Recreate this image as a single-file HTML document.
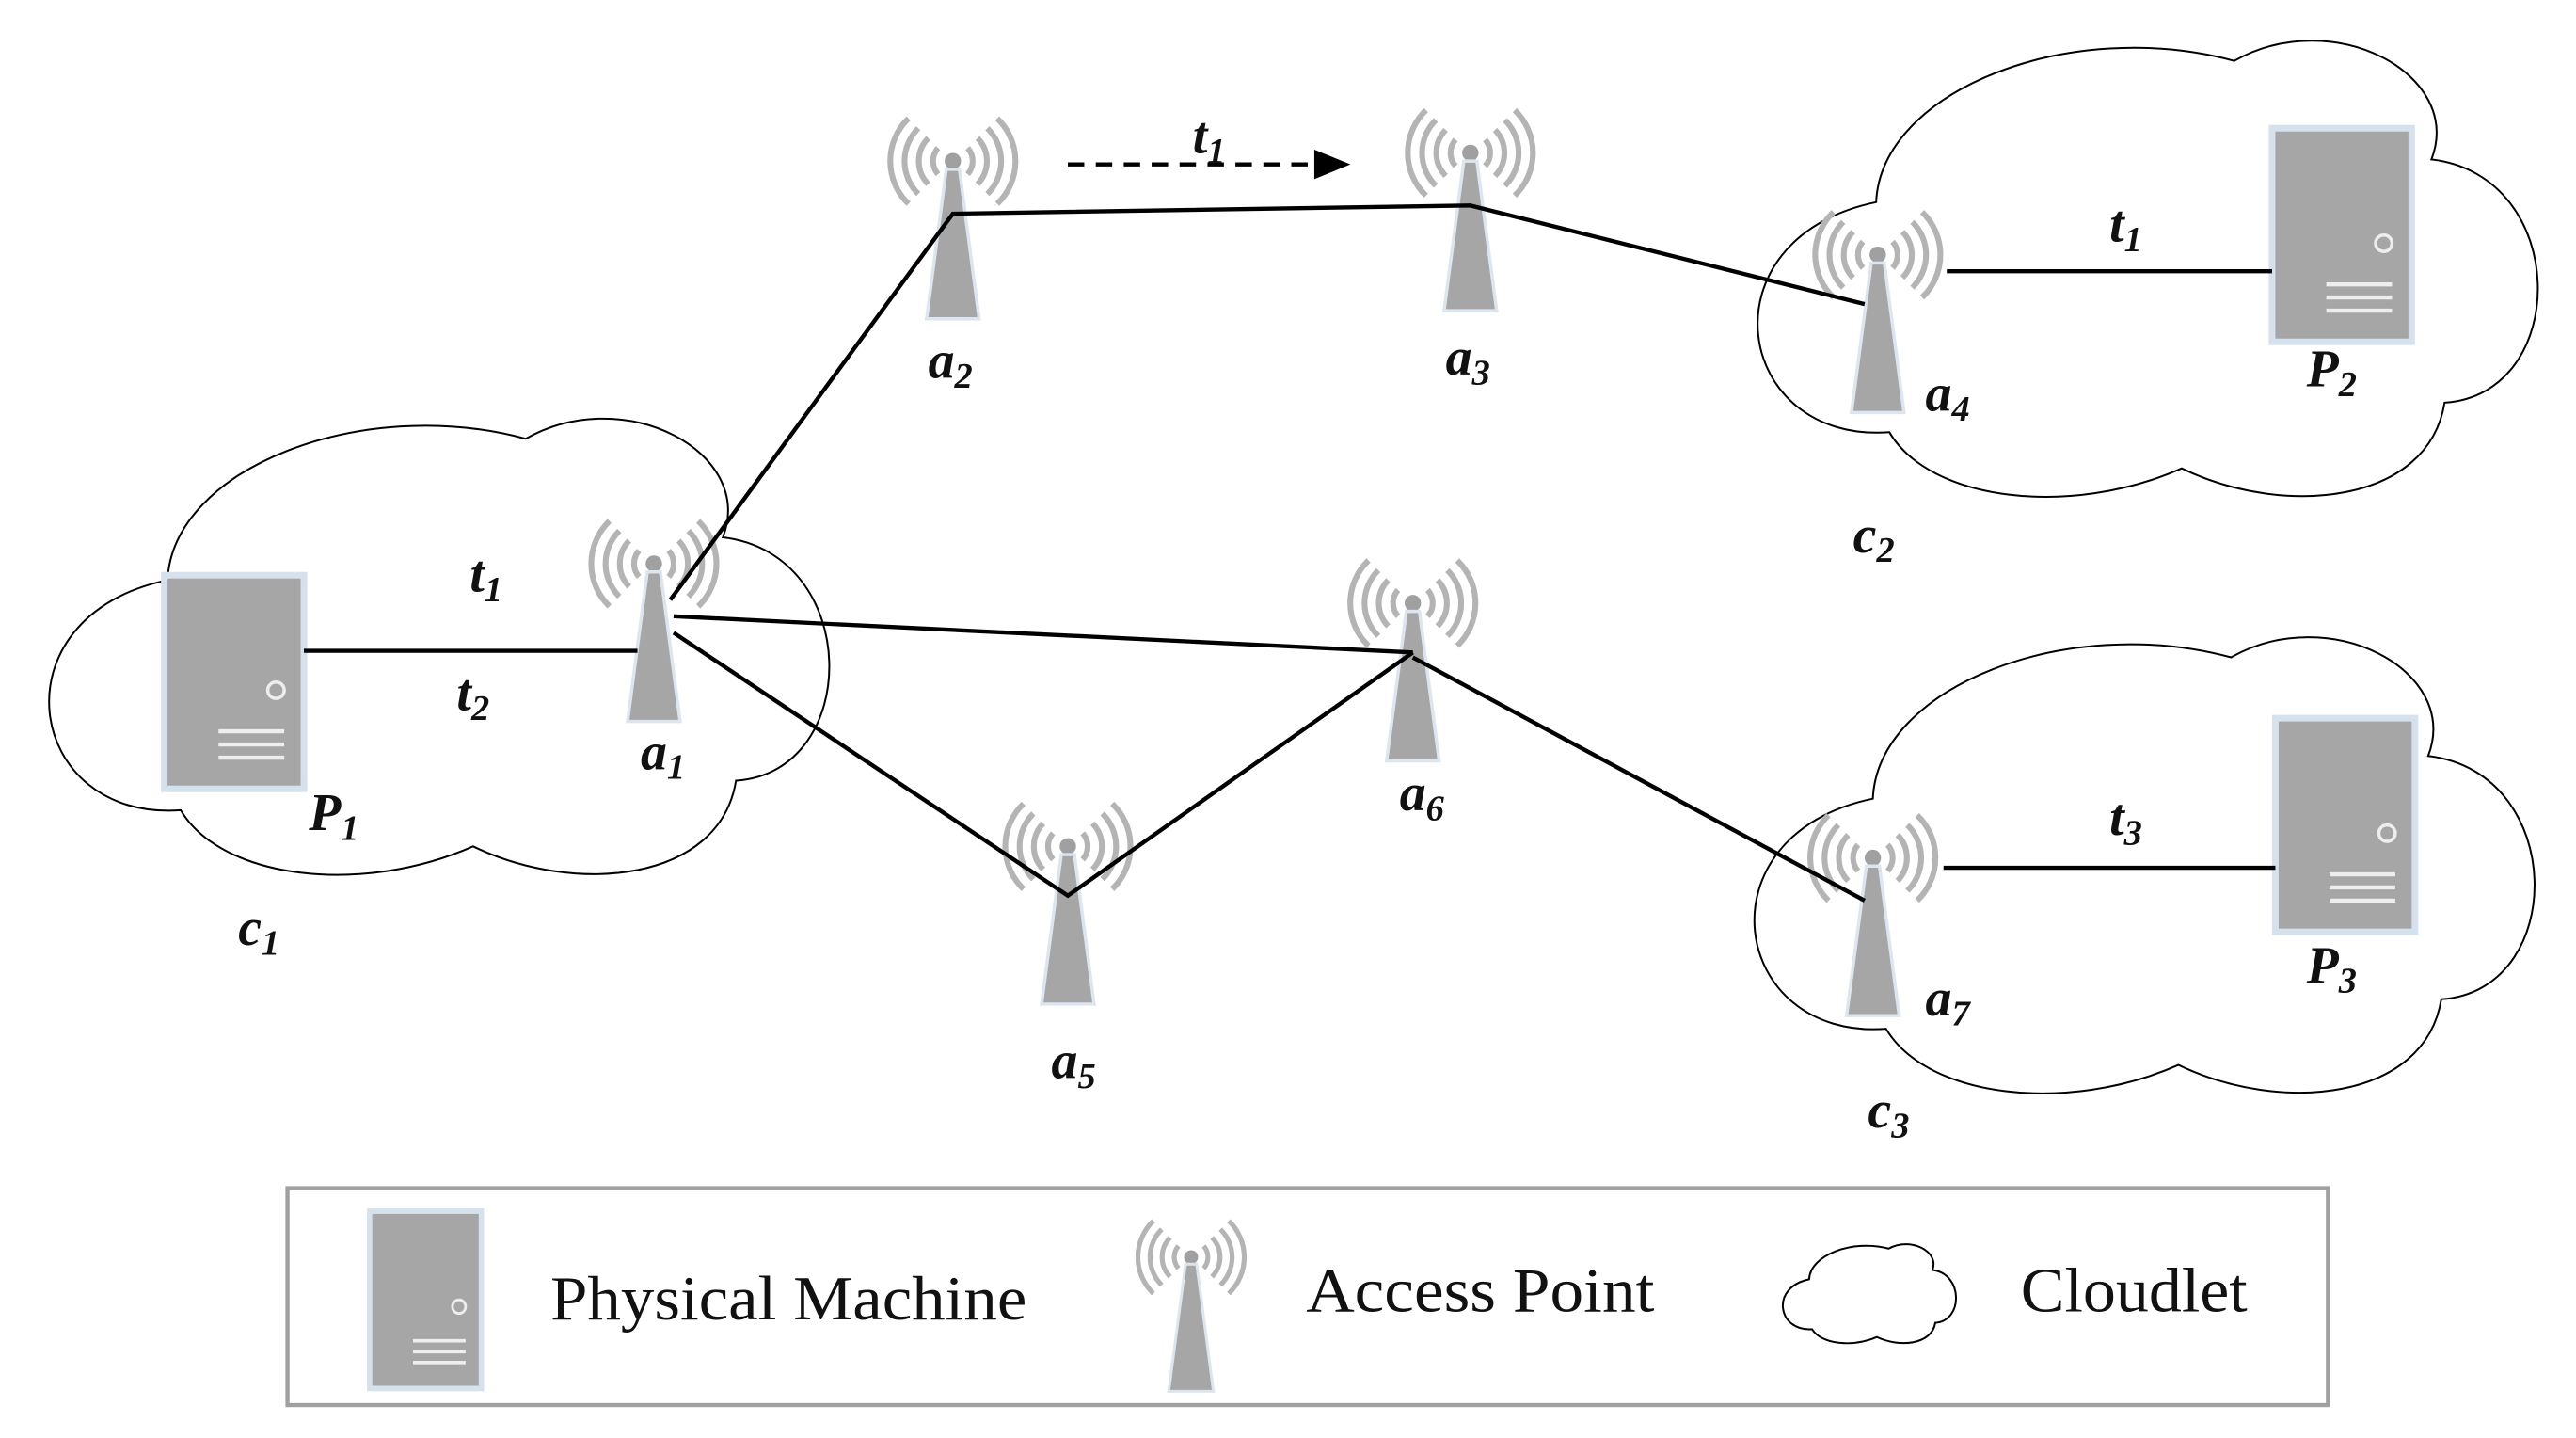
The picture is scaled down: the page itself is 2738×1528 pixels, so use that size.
<!DOCTYPE html>
<html><head><meta charset="utf-8"><style>
html,body{margin:0;padding:0;background:#fff;}
svg{display:block;}
text{font-family:"Liberation Serif",serif;font-style:italic;font-weight:bold;fill:#111;}
.lg{font-style:normal;font-weight:normal;font-size:38px;}
</style></head><body>
<svg width="2738" height="1528" viewBox="0 0 1568 875" xmlns="http://www.w3.org/2000/svg">
<defs>
<path id="cloud" d="M90,248 C-5,255 -25,130 82,108 C85,40 200,-5 300,22 C360,-12 440,30 420,82 C505,92 505,225 428,230 C418,292 330,300 268,270 C200,300 115,290 90,248 Z" fill="#fff" stroke="#000" stroke-width="2" vector-effect="non-scaling-stroke"/>
<g id="ant">
 <g fill="none" stroke="#b4b4b4" stroke-width="3.5">
  <path d="M-9,-8 A12,12 0 0 0 -9,8 M9,-8 A12,12 0 0 1 9,8"/>
  <path d="M-15,-14 A20,20 0 0 0 -15,14 M15,-14 A20,20 0 0 1 15,14"/>
  <path d="M-21,-20 A28,28 0 0 0 -21,20 M21,-20 A28,28 0 0 1 21,20"/>
  <path d="M-27,-26 A36,36 0 0 0 -27,26 M27,-26 A36,36 0 0 1 27,26"/>
 </g>
 <circle r="5" fill="#a0a0a0"/>
 <polygon points="-4,5 4,5 16,96 -16,96" fill="#a6a6a6" stroke="#dde6ef" stroke-width="2"/>
</g>
<g id="srv">
 <rect x="0" y="0" width="85" height="130" fill="#a6a6a6" stroke="#d5e2ee" stroke-width="4"/>
 <circle cx="68" cy="70" r="5" fill="none" stroke="#eee" stroke-width="2"/>
 <path d="M33,95 H73 M33,103 H73 M33,111 H73" stroke="#eee" stroke-width="2.5"/>
</g>
</defs>
<use href="#cloud" transform="translate(20,245)"/>
<use href="#cloud" transform="translate(1060,15)"/>
<use href="#cloud" transform="translate(1058,378)"/>
<use href="#srv" x="100" y="350"/>
<use href="#srv" x="1383" y="78"/>
<use href="#srv" x="1385" y="437"/>
<use href="#ant" x="398" y="343"/>
<use href="#ant" x="580" y="98"/>
<use href="#ant" x="895" y="93"/>
<use href="#ant" x="1143" y="155"/>
<use href="#ant" x="650" y="515"/>
<use href="#ant" x="860" y="367"/>
<use href="#ant" x="1140" y="522"/>
<g stroke="#000" stroke-width="2.5" fill="none">
 <path d="M185,396 H388"/>
 <path d="M408,365 L580,130 L895,125 L1135,185"/>
 <path d="M1185,165 H1383"/>
 <path d="M410,375 L860,397"/>
 <path d="M410,385 L650,545 L860,397"/>
 <path d="M860,400 L1135,548"/>
 <path d="M1183,528 H1385"/>
 <path d="M650,100 H805" stroke-dasharray="10,7"/>
</g>
<polygon points="800,91 822,100 800,109" fill="#000"/>
<g font-size="32">
<text x="286" y="360">t<tspan font-size="22" dy="6">1</tspan></text>
<text x="278" y="432">t<tspan font-size="22" dy="6">2</tspan></text>
<text x="390" y="468">a<tspan font-size="22" dy="6">1</tspan></text>
<text x="188" y="505">P<tspan font-size="22" dy="6">1</tspan></text>
<text x="145" y="575">c<tspan font-size="22" dy="6">1</tspan></text>
<text x="565" y="230">a<tspan font-size="22" dy="6">2</tspan></text>
<text x="726" y="93">t<tspan font-size="22" dy="6">1</tspan></text>
<text x="880" y="228">a<tspan font-size="22" dy="6">3</tspan></text>
<text x="1172" y="250">a<tspan font-size="22" dy="6">4</tspan></text>
<text x="1284" y="147">t<tspan font-size="22" dy="6">1</tspan></text>
<text x="1404" y="235">P<tspan font-size="22" dy="6">2</tspan></text>
<text x="1128" y="336">c<tspan font-size="22" dy="6">2</tspan></text>
<text x="640" y="656">a<tspan font-size="22" dy="6">5</tspan></text>
<text x="852" y="493">a<tspan font-size="22" dy="6">6</tspan></text>
<text x="1284" y="508">t<tspan font-size="22" dy="6">3</tspan></text>
<text x="1172" y="618">a<tspan font-size="22" dy="6">7</tspan></text>
<text x="1404" y="598">P<tspan font-size="22" dy="6">3</tspan></text>
<text x="1137" y="686">c<tspan font-size="22" dy="6">3</tspan></text>
</g>
<rect x="175" y="723" width="1242" height="132" fill="none" stroke="#a0a0a0" stroke-width="2.5"/>
<use href="#srv" transform="translate(225,737) scale(0.8,0.83)"/>
<use href="#ant" transform="translate(725,765) scale(0.85)"/>
<use href="#cloud" transform="translate(1083,755) scale(0.222,0.217)"/>
<text class="lg" x="335" y="803" textLength="290" lengthAdjust="spacingAndGlyphs">Physical Machine</text>
<text class="lg" x="795" y="798" textLength="212" lengthAdjust="spacingAndGlyphs">Access Point</text>
<text class="lg" x="1230" y="798" textLength="138" lengthAdjust="spacingAndGlyphs">Cloudlet</text>
</svg>
</body></html>
